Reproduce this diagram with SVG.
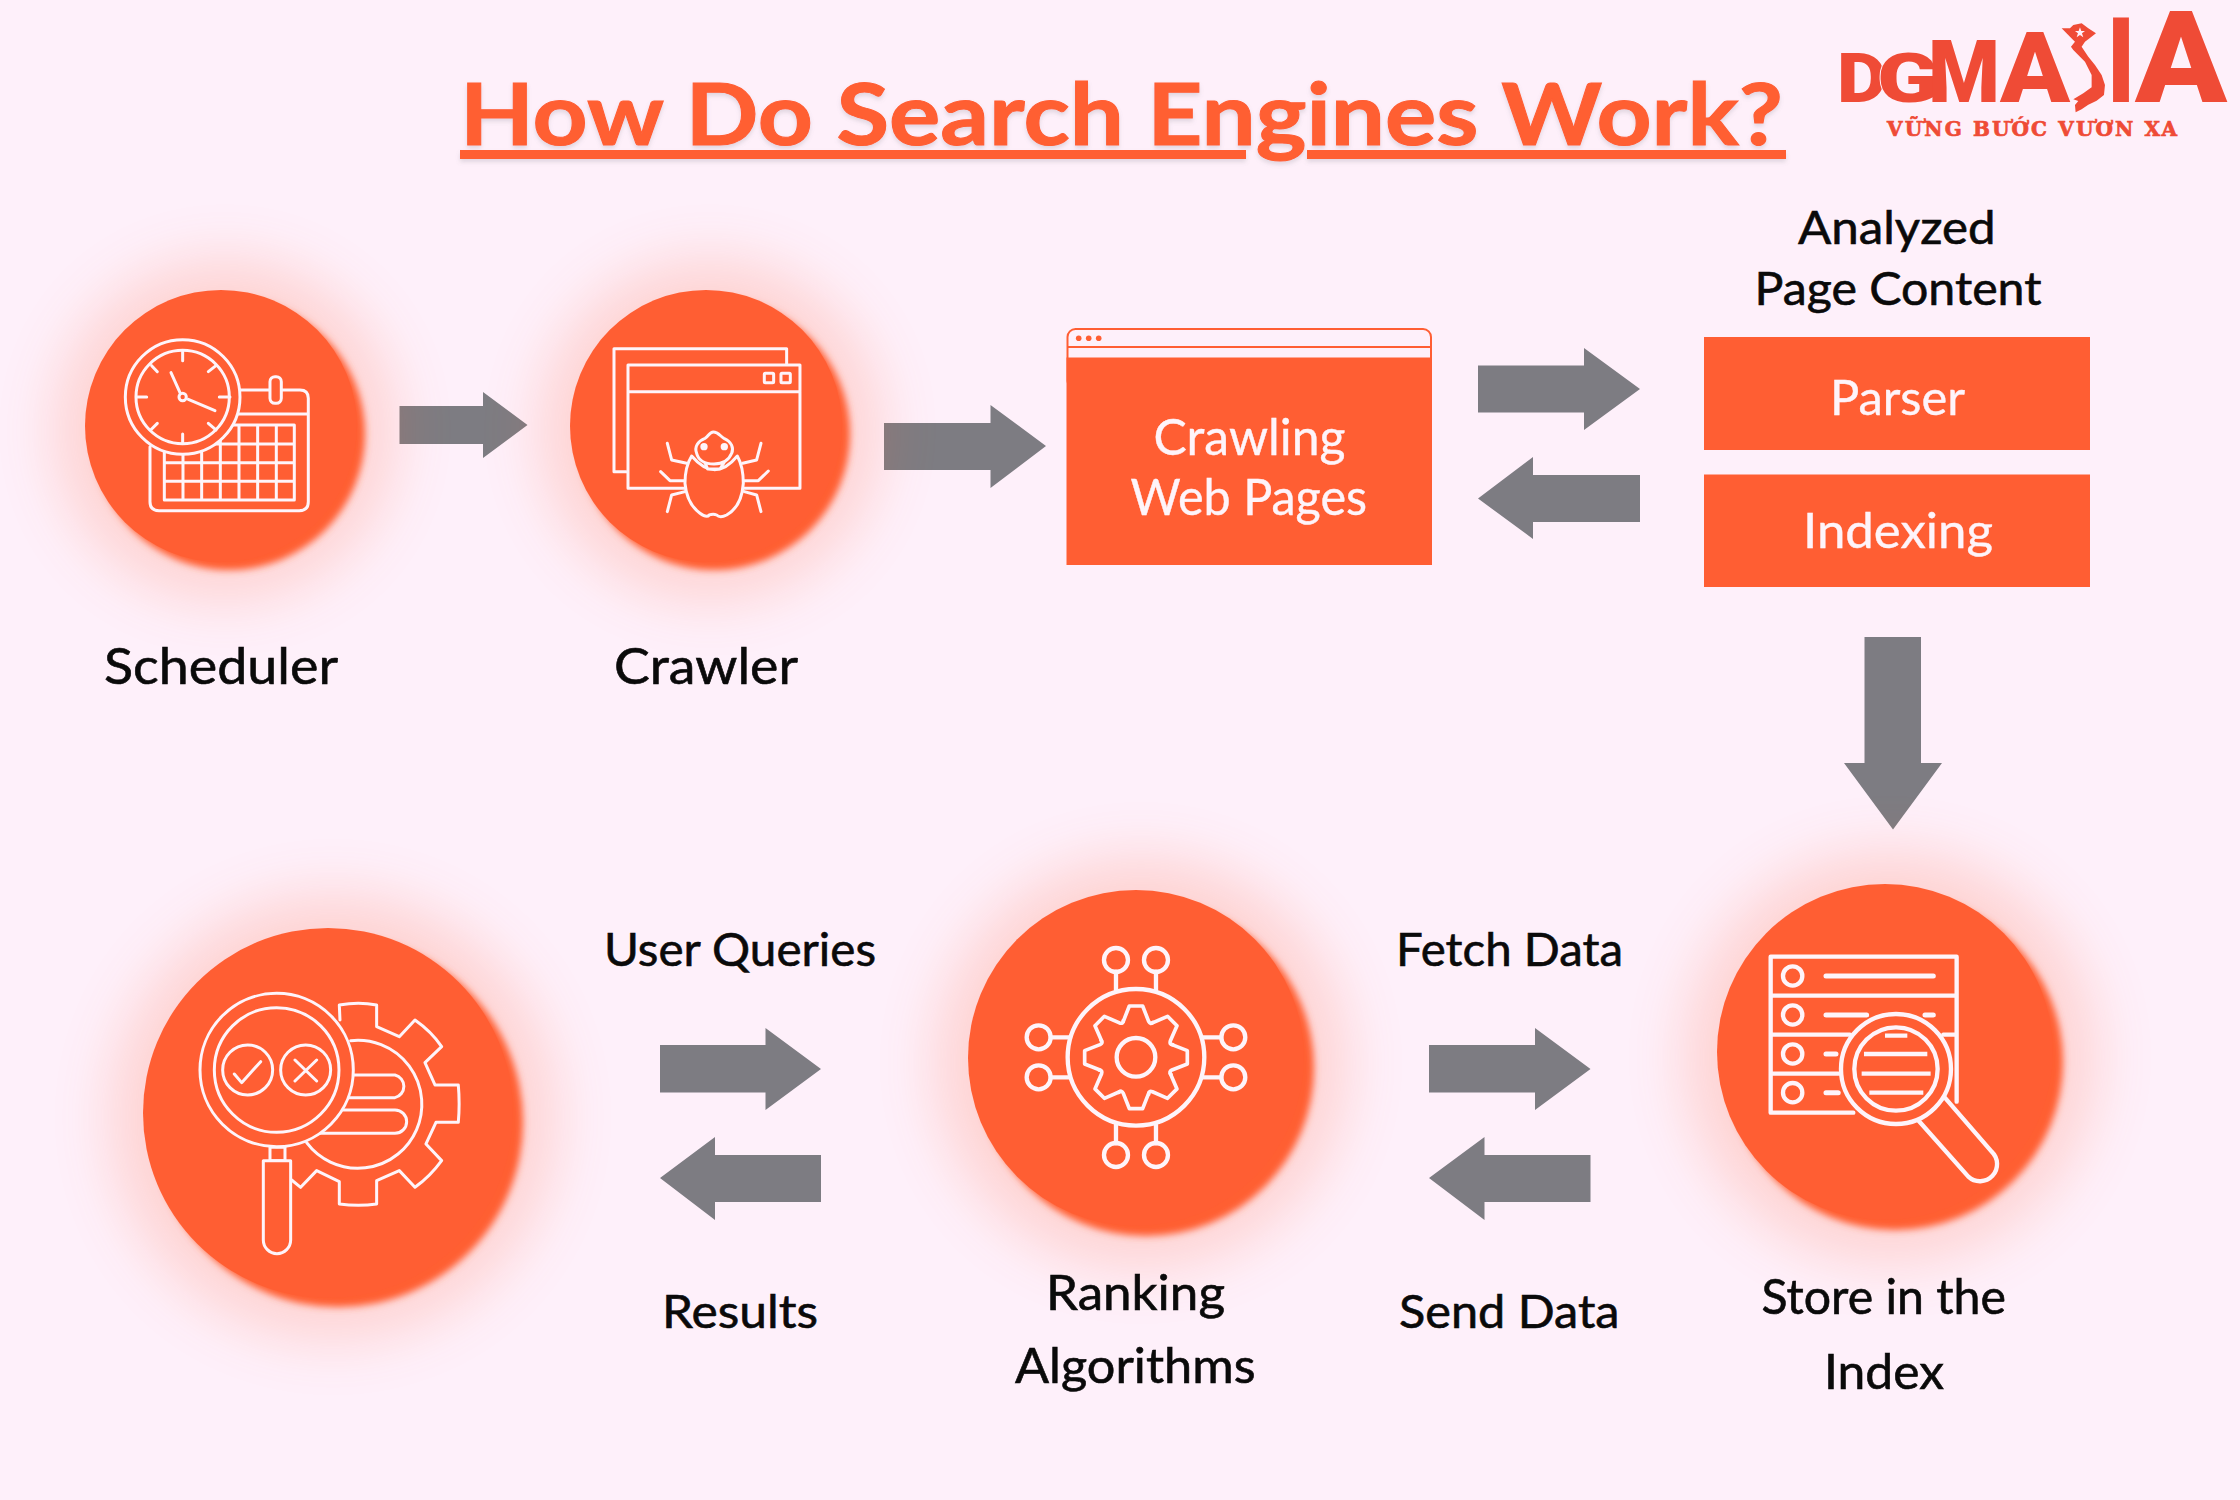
<svg xmlns="http://www.w3.org/2000/svg" xmlns:xlink="http://www.w3.org/1999/xlink" width="2240" height="1500" viewBox="0 0 2240 1500">
<style>
.o{fill:#FF5E33}
.g{fill:#7D7C82}
.lbl{font-family:"Lato","Liberation Sans",sans-serif;fill:#0a0a0a;stroke:#0a0a0a;stroke-width:.6}
.wht{font-family:"Lato","Liberation Sans",sans-serif;fill:#FEF4FA;stroke:#FEF4FA;stroke-width:.4}
.ic{fill:none;stroke:#FEF4FA;stroke-width:9;stroke-linecap:round;stroke-linejoin:round}
.icf{fill:#FF5E33;stroke:#FEF4FA;stroke-width:9;stroke-linejoin:round}
.logo{font-family:"Roboto","Liberation Sans",sans-serif;font-weight:900;fill:#EF4B36}
</style>
<defs>
<filter id="wide" x="-80%" y="-80%" width="260%" height="260%"><feGaussianBlur stdDeviation="30"/></filter>
<filter id="tight" x="-30%" y="-30%" width="160%" height="160%"><feGaussianBlur stdDeviation="3.500"/></filter>
<filter id="soft" x="-5%" y="-30%" width="110%" height="170%"><feDropShadow dx="0" dy="3" stdDeviation="2" flood-color="#7D7C82" flood-opacity=".22"/></filter>
<path id="tooth" d="M-38 -108 L-20 -154 H20 L38 -108 Q44 -97 51 -105" fill="none" stroke="#FEF4FA" stroke-width="11" stroke-linejoin="round" stroke-linecap="round"/>
</defs>
<rect width="2240" height="1500" fill="#FEF0FA"/>

<g id="title" filter="url(#soft)">
<text x="460" y="145" font-family="Lato,'Liberation Sans',sans-serif" font-weight="700" font-size="86" fill="#FF5E33" stroke="#FF5E33" stroke-width="1" textLength="1323" lengthAdjust="spacingAndGlyphs">How Do Search Engines Work?</text>
<rect class="o" x="460" y="150" width="786" height="9"/>
<rect class="o" x="1307" y="150" width="479" height="9"/>
</g>

<g id="logo">
<text class="logo" x="1837" y="102" font-size="69" textLength="50" lengthAdjust="spacingAndGlyphs">D</text>
<text class="logo" x="1877" y="102" font-size="69" textLength="62" lengthAdjust="spacingAndGlyphs" stroke="#FEF0FA" stroke-width="1.500" paint-order="stroke">G</text>
<text class="logo" x="1928" y="102" font-size="87" textLength="72" lengthAdjust="spacingAndGlyphs">M</text>
<text class="logo" x="2000" y="102" font-size="98" textLength="70" lengthAdjust="spacingAndGlyphs">A</text>
<text class="logo" x="2107" y="102" font-size="118" textLength="28" lengthAdjust="spacingAndGlyphs">I</text>
<text class="logo" x="2135" y="102" font-size="128" textLength="92" lengthAdjust="spacingAndGlyphs">A</text>
<g transform="translate(1780 0) scale(.3333)">
<path fill="#EF4B36" d="M845 85 L870 85 L880 75 L905 70 L925 85 L948 100 L925 118 L915 125 L905 140 L925 170 L945 195 L965 225 L975 255 L972 285 L950 302 L925 314 L905 328 L887 337 L885 315 L895 303 L880 298 L910 280 L935 262 L935 225 L915 185 L880 150 L873 140 L885 125 L870 110 Z"/>
<path fill="#FEF0FA" d="M900 82 L904 93 L915 93 L906 100 L910 112 L900 105 L890 112 L894 100 L885 93 L896 93 Z"/>
</g>
<text x="1887" y="136" font-family="'DejaVu Serif',serif" font-weight="700" font-size="20" fill="#EF4B36" stroke="#EF4B36" stroke-width=".7" textLength="290" lengthAdjust="spacing">VỮNG BƯỚC VƯƠN XA</text>
</g>

<g id="connectors">
<polygon class="g" points="399.500,406 483,406 483,392 527.500,425 483,458 483,444 399.500,444"/>
<polygon class="g" points="884,423 990.500,423 990.500,405 1046,446 990.500,488 990.500,470 884,470"/>
<polygon class="g" points="1478,365.500 1584,365.500 1584,348 1640,389 1584,430 1584,412.500 1478,412.500"/>
<polygon class="g" points="1640,475 1533,475 1533,457 1478,498.500 1533,539 1533,522 1640,522"/>
<polygon class="g" points="1864.500,637 1921,637 1921,763 1942,763 1893,829.500 1844,763 1864.500,763"/>
<polygon class="g" points="660,1045 765.500,1045 765.500,1028 821,1069 765.500,1110 765.500,1092.500 660,1092.500"/>
<polygon class="g" points="821,1155 715,1155 715,1137 660,1178 715,1220 715,1202 821,1202"/>
<polygon class="g" points="1429,1045 1535,1045 1535,1028 1590.500,1069 1535,1110 1535,1092.500 1429,1092.500"/>
<polygon class="g" points="1590.500,1155 1484.500,1155 1484.500,1137 1429,1178 1484.500,1220 1484.500,1202 1590.500,1202"/>
</g>

<g id="scheduler">
<circle class="o" cx="225" cy="430" r="170" opacity=".2" filter="url(#wide)"/>
<circle class="o" cx="229" cy="434" r="136" filter="url(#tight)"/>
<circle class="o" cx="221" cy="426" r="136"/>
<g transform="translate(60 270) scale(.3333)">
<path class="ic" d="M540 360 H720 Q745 360 745 385 V695 Q745 722 718 722 H297 Q270 722 270 695 V530 M530 432 H745"/>
<rect class="icf" x="630" y="320" width="34" height="80" rx="15"/>
<path class="ic" d="M313 465 H703 V690 H313 Z M369 465 V690 M425 465 V690 M481 465 V690 M537 465 V690 M593 465 V690 M649 465 V690 M313 522 H703 M313 578 H703 M313 634 H703"/>
<circle class="icf" cx="368" cy="381" r="172"/>
<circle class="icf" cx="368" cy="381" r="140"/>
<path class="ic" d="M368 245 V272 M368 492 V520 M232 381 H260 M478 381 H510 M275 287 L292 305 M445 305 L468 287 M272 480 L292 460 M445 460 L468 480 M333 308 L360 368 M385 388 L465 422"/>
<circle class="icf" cx="368" cy="381" r="11"/>
</g>
<text class="lbl" x="104" y="684" font-size="50" textLength="234" lengthAdjust="spacingAndGlyphs">Scheduler</text>
</g>

<g id="crawler">
<circle class="o" cx="710" cy="430" r="170" opacity=".2" filter="url(#wide)"/>
<circle class="o" cx="714" cy="434" r="136" filter="url(#tight)"/>
<circle class="o" cx="706" cy="426" r="136"/>
<g transform="translate(550 270) scale(.3333)">
<path class="ic" d="M228 605 H192 V236 H710 V282 M234 285 H750 V655 H234 Z M234 365 H750"/>
<rect class="ic" x="643" y="310" width="28" height="28" rx="3"/>
<rect class="ic" x="693" y="310" width="28" height="28" rx="3"/>
<path class="ic" d="M352 520 L365 570 L410 580 M332 605 L360 632 L405 632 M352 725 L365 675 L405 665 M633 520 L620 570 L578 580 M655 603 L625 632 L583 632 M633 725 L620 675 L583 665"/>
<path class="icf" d="M425 558 Q405 590 405 640 Q410 700 450 730 Q470 745 478 735 Q490 730 500 735 Q510 745 530 735 Q575 710 580 640 Q580 590 562 558 Q495 640 425 558 Z"/>
<path class="icf" d="M465 578 L473 597 H510 L522 578 Z"/>
<path class="icf" d="M490 486 C505 486 512 500 522 505 C545 515 552 535 545 550 C535 575 515 582 492 582 C465 582 445 570 440 550 C432 530 445 512 465 505 C475 500 478 486 490 486 Z"/>
<circle cx="462" cy="530" r="11" fill="#FEF4FA"/>
<circle cx="523" cy="530" r="11" fill="#FEF4FA"/>
</g>
<text class="lbl" x="614" y="684" font-size="50" textLength="184" lengthAdjust="spacingAndGlyphs">Crawler</text>
</g>

<g id="crawling-web-pages">
<rect x="1067.500" y="329" width="363.500" height="60" rx="8" fill="none" stroke="#FF5E33" stroke-width="2"/>
<path d="M1067 347 H1431" stroke="#FF5E33" stroke-width="2"/>
<circle class="o" cx="1078.700" cy="338.300" r="2.800"/><circle class="o" cx="1088.700" cy="338.300" r="2.800"/><circle class="o" cx="1098.700" cy="338.300" r="2.800"/>
<rect class="o" x="1066.500" y="357.500" width="365.500" height="207.500"/>
<text class="wht" x="1153.500" y="455" font-size="50" textLength="192" lengthAdjust="spacingAndGlyphs">Crawling</text>
<text class="wht" x="1130.500" y="515" font-size="50" textLength="236.500" lengthAdjust="spacingAndGlyphs">Web Pages</text>
</g>

<g id="analyzed-label">
<text class="lbl" x="1798" y="244" font-size="46" textLength="197.500" lengthAdjust="spacingAndGlyphs">Analyzed</text>
<text class="lbl" x="1754.500" y="305" font-size="46" textLength="287" lengthAdjust="spacingAndGlyphs">Page Content</text>
</g>
<g id="parser">
<rect class="o" x="1704" y="337" width="386" height="113"/>
<text class="wht" x="1830" y="414.500" font-size="48" textLength="135" lengthAdjust="spacingAndGlyphs">Parser</text>
</g>
<g id="indexing">
<rect class="o" x="1704" y="474.500" width="386" height="112.500"/>
<text class="wht" x="1803" y="547.500" font-size="48" textLength="190" lengthAdjust="spacingAndGlyphs">Indexing</text>
</g>

<g id="store-index">
<circle class="o" cx="1890" cy="1057" r="205" opacity=".2" filter="url(#wide)"/>
<circle class="o" cx="1895" cy="1062" r="168" filter="url(#tight)"/>
<circle class="o" cx="1885" cy="1052" r="168"/>
<g transform="translate(1710 880) scale(.3333)">
<path class="ic" style="stroke-width:13" d="M740 665 V230 H182 V698 H430 M182 347 H740 M182 464 H420 M700 464 H740 M182 581 H385"/>
<g class="ic" style="stroke-width:13">
<circle cx="248" cy="288" r="29"/><circle cx="248" cy="405" r="29"/><circle cx="248" cy="522" r="29"/><circle cx="248" cy="638" r="29"/>
<path style="stroke-width:15" d="M348 288 H670 M348 405 H470 M645 405 H670 M348 522 H378 M348 638 H385"/>
</g>
<path class="icf" style="stroke-width:13" d="M702 650 L845 815 A42 42 0 0 1 775 890 L622 718 Z"/>
<circle class="icf" style="stroke-width:13" cx="558" cy="567" r="165"/>
<circle class="icf" style="stroke-width:13" cx="558" cy="567" r="125"/>
<path class="ic" style="stroke-width:13;stroke-linecap:butt" d="M462 522 H652 M455 581 H662 M478 638 H640 M525 467 H592"/>
</g>
<text class="lbl" x="1761.500" y="1314" font-size="48" textLength="244.500" lengthAdjust="spacingAndGlyphs">Store in the</text>
<text class="lbl" x="1824" y="1389" font-size="48" textLength="120" lengthAdjust="spacingAndGlyphs">Index</text>
</g>

<g id="ranking-algorithms">
<circle class="o" cx="1141" cy="1063" r="205" opacity=".2" filter="url(#wide)"/>
<circle class="o" cx="1146" cy="1068" r="168" filter="url(#tight)"/>
<circle class="o" cx="1136" cy="1058" r="168"/>
<g transform="translate(960 880) scale(.3333)">
<g class="ic" style="stroke-width:13">
<path d="M468 275 V330 M588 275 V330 M468 735 V790 M588 735 V790 M272 472 H330 M272 592 H330 M726 472 H784 M726 592 H784"/>
<circle cx="528" cy="532" r="205"/>
<circle cx="528" cy="532" r="58"/>
<circle cx="468" cy="240" r="36"/><circle cx="588" cy="240" r="36"/>
<circle cx="468" cy="825" r="36"/><circle cx="588" cy="825" r="36"/>
<circle cx="236" cy="472" r="36"/><circle cx="236" cy="592" r="36"/>
<circle cx="820" cy="472" r="36"/><circle cx="820" cy="592" r="36"/>
</g>
<g transform="translate(528 532)">
<use xlink:href="#tooth"/><use xlink:href="#tooth" transform="rotate(45)"/><use xlink:href="#tooth" transform="rotate(90)"/><use xlink:href="#tooth" transform="rotate(135)"/><use xlink:href="#tooth" transform="rotate(180)"/><use xlink:href="#tooth" transform="rotate(225)"/><use xlink:href="#tooth" transform="rotate(270)"/><use xlink:href="#tooth" transform="rotate(315)"/>
</g>
</g>
<text class="lbl" x="1046" y="1310" font-size="48" textLength="179" lengthAdjust="spacingAndGlyphs">Ranking</text>
<text class="lbl" x="1015" y="1383" font-size="48" textLength="240.500" lengthAdjust="spacingAndGlyphs">Algorithms</text>
</g>

<g id="search-results">
<circle class="o" cx="333" cy="1117" r="222" opacity=".2" filter="url(#wide)"/>
<circle class="o" cx="338" cy="1122" r="185" filter="url(#tight)"/>
<circle class="o" cx="328" cy="1113" r="185"/>
<g transform="translate(130 920) scale(.3333)">
<path class="ic" d="M630 300 L628 255 Q686 245 740 255 V320 L808 350 L855 300 Q905 335 935 380 L885 428 L915 495 H985 Q990 552 985 607 H918 L888 672 L935 722 Q900 770 855 802 L808 752 L740 782 V852 Q686 860 628 852 V785 L560 752 L512 802 L485 780"/>
<path class="ic" d="M662 362 A192 192 0 1 1 530 668 M665 465 H795 A35 35 0 0 1 795 533 H655 M640 570 H795 A35 35 0 0 1 795 640 H570"/>
<rect class="icf" x="420" y="682" width="45" height="40"/>
<path class="icf" d="M400 722 H482 V960 A41 41 0 0 1 400 960 Z"/>
<circle class="icf" cx="440" cy="450" r="230"/>
<circle class="icf" cx="440" cy="450" r="187"/>
<circle class="ic" cx="353" cy="450" r="75"/>
<circle class="ic" cx="527" cy="450" r="75"/>
<path class="ic" d="M313 462 L335 488 L392 425 M495 420 L560 483 M560 420 L495 483"/>
</g>
</g>

<g id="edge-labels">
<text class="lbl" x="604" y="966" font-size="46" textLength="272" lengthAdjust="spacingAndGlyphs">User Queries</text>
<text class="lbl" x="662" y="1328" font-size="46" textLength="156" lengthAdjust="spacingAndGlyphs">Results</text>
<text class="lbl" x="1396" y="966" font-size="46" textLength="227" lengthAdjust="spacingAndGlyphs">Fetch Data</text>
<text class="lbl" x="1399" y="1328" font-size="46" textLength="220.500" lengthAdjust="spacingAndGlyphs">Send Data</text>
</g>
</svg>
